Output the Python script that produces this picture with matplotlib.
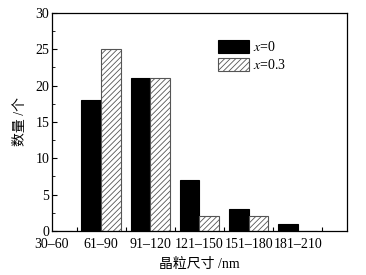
import numpy as np
import matplotlib.pyplot as plt

plt.rcParams["font.family"] = ["Liberation Serif", "Noto Sans CJK SC"]
plt.rcParams["mathtext.fontset"] = "stix"
plt.rcParams["hatch.linewidth"] = 0.6
plt.rcParams["font.size"] = 10

#%%
# 数据
categories = ["30–60", "61–90", "91–120", "121–150", "151–180", "181–210"]
counts_x0 = [0, 18, 21, 7, 3, 1]
counts_x03 = [0, 25, 21, 2, 2, 0]

#%%
fig = plt.figure(figsize=(3.66, 2.75), dpi=100)
ax = fig.add_axes([0.142, 0.16, 0.806, 0.793])

x = np.arange(len(categories))
w = 0.4

ax.bar(x - w/2, counts_x0, width=w, color="black", edgecolor="black",
       linewidth=0.8, label=r"$x$=0")
ax.bar(x + w/2, counts_x03, width=w, color="white", edgecolor="#555555",
       hatch="//////", linewidth=0.8, label=r"$x$=0.3")

ax.set_xlim(0, 6)
ax.set_ylim(0, 30)
ax.set_xticks(x)
ax.set_xticklabels(categories)
ax.set_xticks(x + 0.5, minor=True)
ax.set_yticks(np.arange(0, 31, 5))
ax.set_yticks(np.arange(0, 30, 2.5), minor=True)

ax.tick_params(axis="x", which="major", length=0, pad=5)
ax.tick_params(axis="x", which="minor", direction="in", length=3, width=0.8)
ax.tick_params(axis="y", which="major", direction="in", length=3.5, width=0.8, pad=2)
ax.tick_params(axis="y", which="minor", direction="in", length=2, width=0.6)
for s in ax.spines.values():
    s.set_linewidth(0.9)

ax.set_xlabel("晶粒尺寸 /nm", labelpad=5)
ax.set_ylabel("数量 /个", labelpad=6)

ax.legend(loc="upper left", bbox_to_anchor=(0.53, 0.92), frameon=False,
          handlelength=2.2, handleheight=1.0, handletextpad=0.3,
          labelspacing=0.3, borderpad=0.2)

fig.savefig("out.png", dpi=100)
